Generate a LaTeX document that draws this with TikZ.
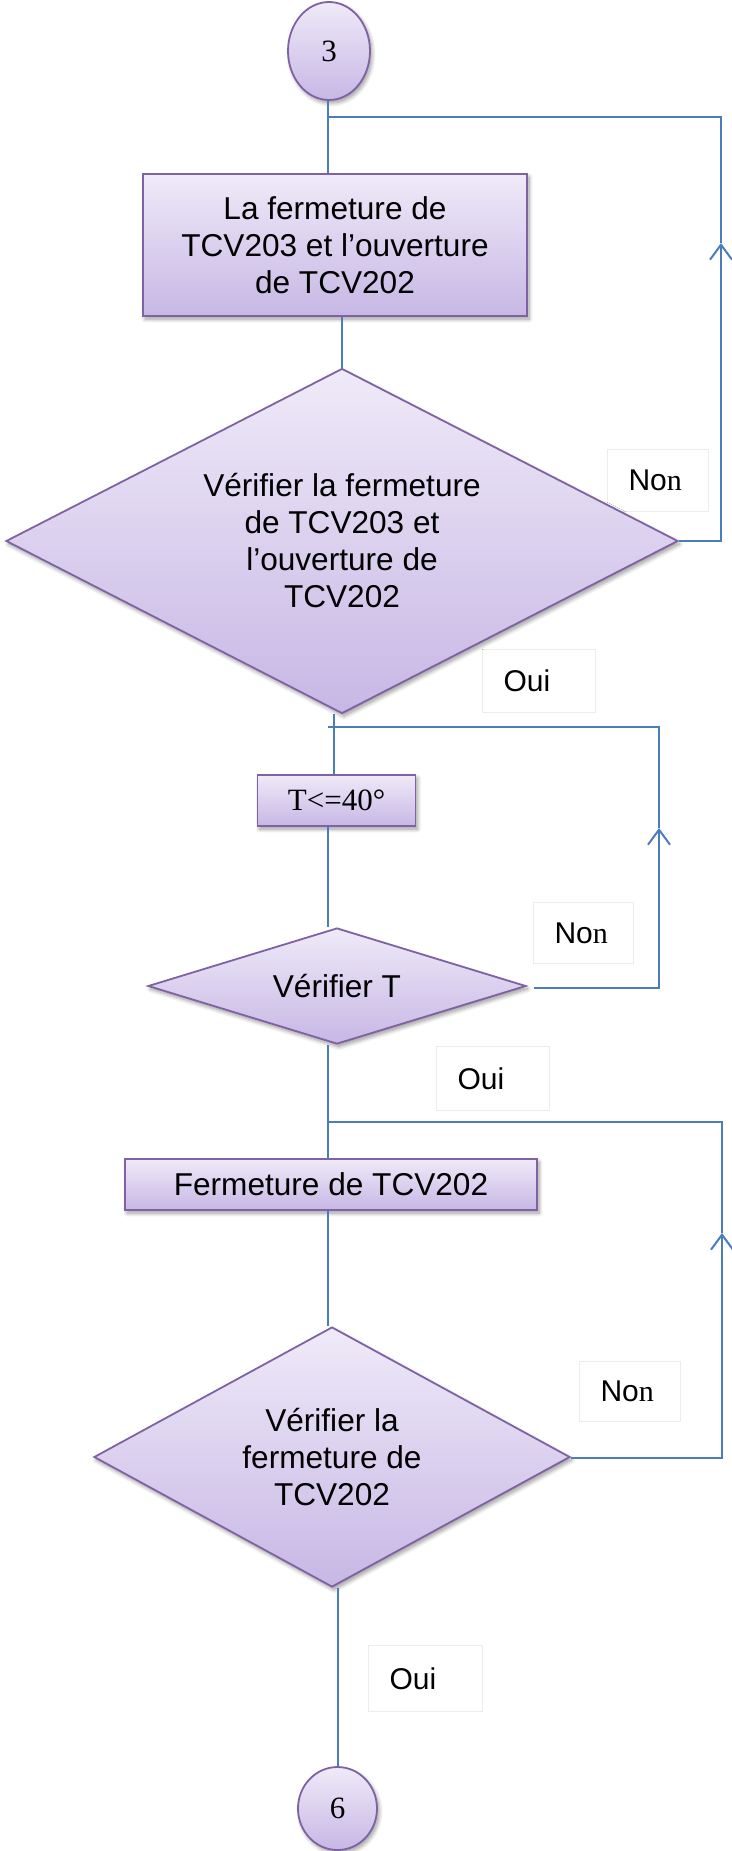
\documentclass[tikz,border=0pt]{standalone}
\usepackage{fontspec}
\setmainfont{Liberation Sans}
\newfontfamily\serifface{Liberation Serif}
\usetikzlibrary{shapes.geometric,arrows.meta,shadows.blur}

\definecolor{flowline}{RGB}{74,126,187}
\definecolor{shapeedge}{RGB}{126,98,164}
\definecolor{shapetop}{RGB}{239,234,248}
\definecolor{shapebottom}{RGB}{199,183,229}
\definecolor{tagedge}{RGB}{236,236,236}

\tikzset{
  shapebase/.style={draw=shapeedge, line width=1.8pt,
    top color=shapetop, bottom color=shapebottom, inner sep=0pt,
    blur shadow={shadow xshift=2pt, shadow yshift=-3pt,
      shadow blur radius=4pt, shadow blur steps=8, shadow opacity=40},
    font=\fontsize{31.6}{37}\selectfont, align=center},
  procbox/.style={shapebase, rectangle},
  decision/.style={shapebase, diamond},
  connector/.style={shapebase, ellipse, font=\serifface\fontsize{31}{37}\selectfont},
  tagbox/.style={draw=tagedge, line width=1pt, fill=white, rectangle,
    anchor=north west, inner xsep=21pt, inner ysep=0pt, align=left,
    font=\fontsize{30}{36}\selectfont},
  flow/.style={draw=flowline, line width=2pt},
  upflow/.style={flow, -{Straight Barb[length=15pt,width=22pt,line width=2pt]}}
}

\begin{document}
\begin{tikzpicture}[x=1pt,y=-1pt]
  \useasboundingbox (0,0) rectangle (731,1851);

  % branch labels (drawn first, the shapes overlap them)
  \node[tagbox, text width=59pt, minimum height=62pt] (n1) at (607,449) {No{\serifface n}};
  \node[tagbox, text width=71pt, minimum height=63pt] (o1) at (482,649) {Oui};
  \node[tagbox, text width=58pt, minimum height=61pt] (n2) at (533,902) {No{\serifface n}};
  \node[tagbox, text width=71pt, minimum height=64pt] (o2) at (436,1046) {Oui};
  \node[tagbox, text width=59pt, minimum height=60pt] (n3) at (579,1361) {No{\serifface n}};
  \node[tagbox, text width=72pt, minimum height=66pt] (o3) at (368,1645) {Oui};

  % start connector and first action
  \node[connector, minimum width=82pt, minimum height=98pt] (c3) at (329,51) {3};
  \node[procbox, minimum width=384pt, minimum height=142pt] (b1) at (335,245)
    {La fermeture de\\TCV203 et l’ouverture\\de TCV202};
  \node[decision, shape aspect=1.95, minimum width=672pt, minimum height=345pt] (d1) at (342,541)
    {Vérifier la fermeture\\de TCV203 et\\l’ouverture de\\TCV202};

  % temperature wait
  \node[procbox, minimum width=158pt, minimum height=51pt,
        font=\serifface\fontsize{31}{37}\selectfont] (tb) at (336.5,800.5) {T<=40°};
  \node[decision, shape aspect=3.2, minimum width=378pt, minimum height=116pt] (d2) at (337,986)
    {Vérifier T};

  % closing TCV202
  \node[procbox, minimum width=412pt, minimum height=51pt] (b3) at (331,1184.5)
    {Fermeture de TCV202};
  \node[decision, shape aspect=1.83, minimum width=476pt, minimum height=260pt] (d3) at (332,1457)
    {Vérifier la\\fermeture de\\TCV202};
  \node[connector, minimum width=79pt, minimum height=83pt] (c6) at (337.5,1808.5) {6};

  % junctions and corners of the return loops
  \coordinate (j1) at (328,117);
  \coordinate (r1) at (721,541);
  \coordinate (a1) at (721,243);
  \coordinate (t1) at (721,117);
  \coordinate (j2) at (334,727);
  \coordinate (s2) at (328,727);
  \coordinate (r2) at (659,988);
  \coordinate (a2) at (659,828);
  \coordinate (t2) at (659,727);
  \coordinate (j3) at (328,1122);
  \coordinate (r3) at (722,1458);
  \coordinate (a3) at (722,1233);
  \coordinate (t3) at (722,1122);

  % main flow
  \draw[flow] (c3.south -| j1) -- (b1.north -| j1);
  \draw[flow] (b1.south -| d1.north) -- (d1.north);
  \draw[flow] (d1.south -| j2) -- (tb.north -| j2);
  \draw[flow] (tb.south -| j3) -- (d2.north -| j3);
  \draw[flow] (d2.south -| j3) -- (b3.north -| j3);
  \draw[flow] (b3.south -| j3) -- (d3.north -| j3);
  \draw[flow] (d3.south -| c6.north) -- (c6.north);

  % "Non" loops back above each step
  \draw[upflow] (d1.east) -- (r1) -- (a1);
  \draw[flow] (a1) -- (t1) -- (j1);
  \draw[upflow] ([xshift=7pt]d2.east |- r2) -- (r2) -- (a2);
  \draw[flow] (a2) -- (t2) -- (s2);
  \draw[upflow] (d3.east |- r3) -- (r3) -- (a3);
  \draw[flow] (a3) -- (t3) -- (j3);
\end{tikzpicture}
\end{document}
